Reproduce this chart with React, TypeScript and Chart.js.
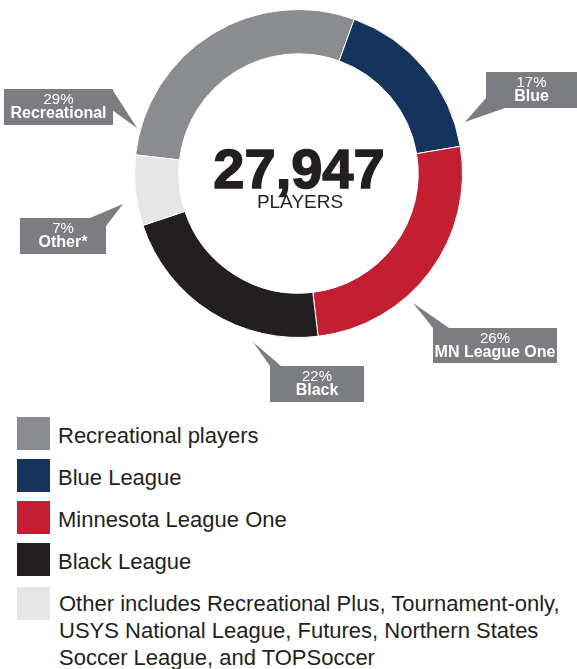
import React, { useEffect, useRef } from 'react';
import { Chart, registerables } from 'chart.js';

Chart.register(...registerables);

// ---- data ----
const categories = ['Recreational players', 'Blue League', 'Minnesota League One', 'Black League', 'Other'];
const calloutNames = ['Recreational', 'Blue', 'MN League One', 'Black', 'Other*'];
const shares = [29, 17, 26, 22, 7];
const sliceColors = ['#8b8c8f', '#14345d', '#c41e32', '#231f20', '#e6e6e6'];
const totalPlayers = 27947;
const centerCaption = 'PLAYERS';
const legendLabels = ['Recreational players', 'Blue League', 'Minnesota League One', 'Black League'];
const otherNoteLines = [
  'Other includes Recreational Plus, Tournament-only,',
  'USYS National League, Futures, Northern States',
  'Soccer League, and TOPSoccer',
];

// ---- layout (callout boxes and pointer triangles) ----
const calloutLayout = [
  { x: 4, y: 89, w: 109, h: 36, ptr: [[112, 89], [112, 110], [137, 128]] },
  { x: 486, y: 72, w: 91, h: 36, ptr: [[486, 98], [505, 108], [465, 122]] },
  { x: 433, y: 328, w: 124, h: 35, ptr: [[433, 328], [449, 328], [413, 303]] },
  { x: 270, y: 366, w: 94, h: 36, ptr: [[270, 366], [281, 366], [253, 342]] },
  { x: 20, y: 218, w: 86, h: 36, ptr: [[90, 218], [106, 226], [123, 204]] },
];

const FONT = '"Liberation Sans", Arial, Helvetica, sans-serif';
const BOX_COLOR = '#7c7d80';
const TEXT_DARK = '#231f20';

const overlayPlugin = {
  id: 'overlay',
  afterDraw(chart: any) {
    const ctx = chart.ctx as CanvasRenderingContext2D;
    const meta = chart.getDatasetMeta(0);
    const arc = meta.data[0];
    const cx = arc.x;
    ctx.save();
    // center text
    ctx.fillStyle = TEXT_DARK;
    ctx.strokeStyle = TEXT_DARK;
    ctx.textAlign = 'center';
    ctx.textBaseline = 'alphabetic';
    ctx.font = `bold 56px ${FONT}`;
    ctx.lineWidth = 1.5;
    const totalText = totalPlayers.toLocaleString('en-US');
    ctx.fillText(totalText, cx + 0.5, 188);
    ctx.strokeText(totalText, cx + 0.5, 188);
    ctx.font = `19px ${FONT}`;
    ctx.fillText(centerCaption, cx + 1.5, 208);

    // callouts
    calloutLayout.forEach((c, i) => {
      ctx.fillStyle = BOX_COLOR;
      ctx.fillRect(c.x, c.y, c.w, c.h);
      ctx.beginPath();
      ctx.moveTo(c.ptr[0][0], c.ptr[0][1]);
      ctx.lineTo(c.ptr[1][0], c.ptr[1][1]);
      ctx.lineTo(c.ptr[2][0], c.ptr[2][1]);
      ctx.closePath();
      ctx.fill();
      ctx.fillStyle = '#ffffff';
      ctx.textAlign = 'center';
      ctx.textBaseline = 'middle';
      const mx = c.x + c.w / 2;
      ctx.font = `15px ${FONT}`;
      ctx.fillText(`${shares[i]}%`, mx, c.y + 11);
      ctx.font = `bold 16px ${FONT}`;
      ctx.fillText(calloutNames[i], mx, c.y + 25);
    });
    ctx.restore();
  },
};

function Swatch({ color }: { color: string }) {
  return <div style={{ width: 33, height: 33, background: color, flex: '0 0 auto' }} />;
}

export default function App() {
  const canvasRef = useRef<HTMLCanvasElement | null>(null);

  useEffect(() => {
    if (!canvasRef.current) return;
    const chart = new Chart(canvasRef.current, {
      type: 'doughnut',
      data: {
        labels: categories,
        datasets: [
          {
            data: shares,
            backgroundColor: sliceColors,
            borderColor: '#ffffff',
            borderWidth: 1,
          },
        ],
      },
      options: {
        responsive: false,
        animation: false,
        events: [],
        rotation: -83.5,
        cutout: '73%',
        layout: { padding: { left: 134, right: 114, top: 9, bottom: 72 } },
        plugins: {
          legend: { display: false },
          tooltip: { enabled: false },
        },
      },
      plugins: [overlayPlugin],
    });
    return () => chart.destroy();
  }, []);

  return (
    <div style={{ position: 'absolute', left: 0, top: 0, width: 577, height: 669, background: '#fff', overflow: 'hidden', fontFamily: FONT }}>
      <canvas ref={canvasRef} width={577} height={410} style={{ display: 'block', position: 'absolute', left: 0, top: 0 }} />
      <div style={{ position: 'absolute', left: 17, top: 417 }}>
        {legendLabels.map((label, i) => (
          <div key={label} style={{ display: 'flex', alignItems: 'flex-start', height: 42 }}>
            <Swatch color={sliceColors[i]} />
            <div style={{ marginLeft: 8, marginTop: 5, fontSize: 22, lineHeight: '27px', color: TEXT_DARK, whiteSpace: 'nowrap' }}>{label}</div>
          </div>
        ))}
        <div style={{ display: 'flex', alignItems: 'flex-start', marginTop: 2 }}>
          <Swatch color={sliceColors[4]} />
          <div style={{ marginLeft: 9, marginTop: 3, fontSize: 22, lineHeight: '27px', color: TEXT_DARK, whiteSpace: 'nowrap' }}>
            {otherNoteLines.map((line) => (
              <div key={line}>{line}</div>
            ))}
          </div>
        </div>
      </div>
    </div>
  );
}
